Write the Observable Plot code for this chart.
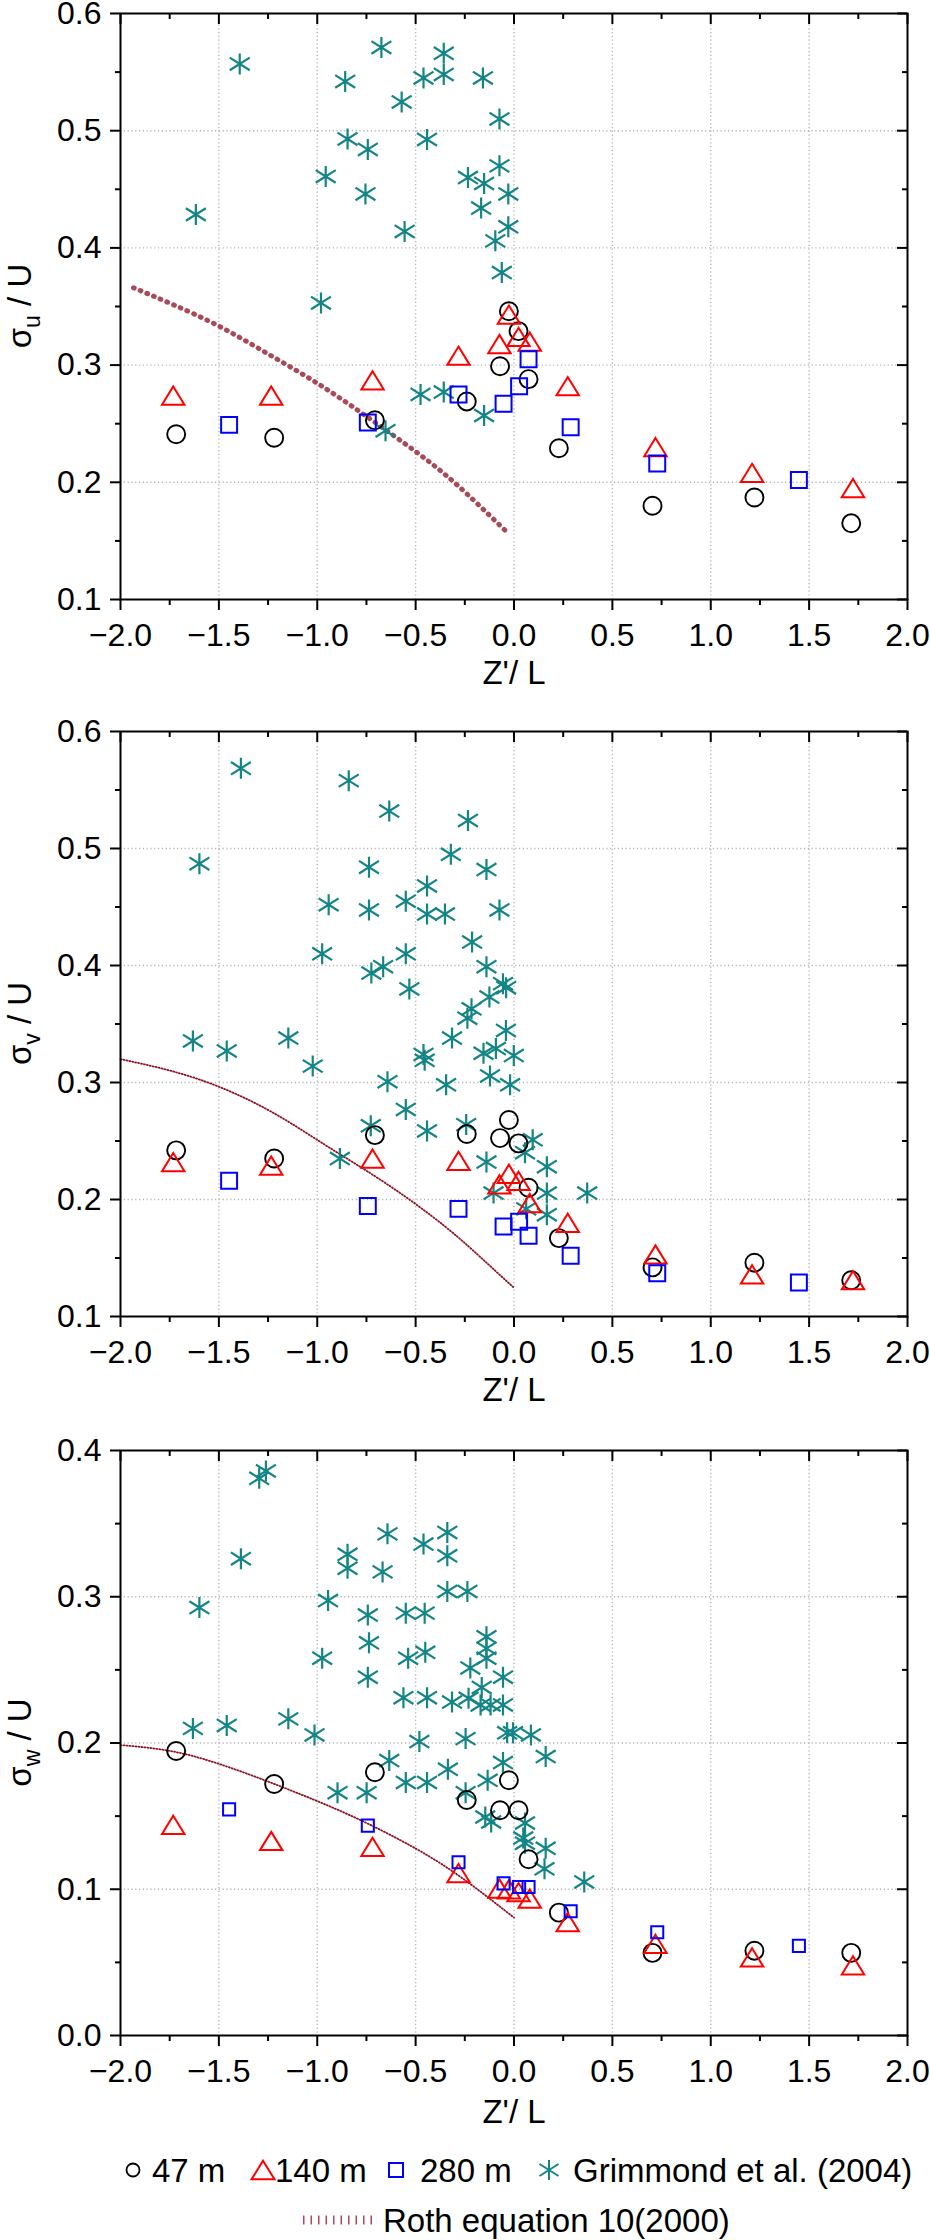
<!DOCTYPE html>
<html>
<head>
<meta charset="utf-8">
<script src="https://cdn.jsdelivr.net/npm/d3@7"></script>
<script src="https://cdn.jsdelivr.net/npm/@observablehq/plot@0.6"></script>
<style>
  html, body { margin: 0; padding: 0; background: #fff; }
  #chart { width: 930px; }
  #chart svg { display: block; }
</style>
</head>
<body>
<div id="chart"></div>
<script>
// ---------- tick values ----------
const xMajor = [-2, -1.5, -1, -0.5, 0, 0.5, 1, 1.5, 2];
const xMinor = [-1.75, -1.25, -0.75, -0.25, 0.25, 0.75, 1.25, 1.75];
const xGrid = [-1.5, -1, -0.5, 0, 0.5, 1, 1.5];
const uvMajor = [0.1, 0.2, 0.3, 0.4, 0.5, 0.6];
const uvMinor = [0.15, 0.25, 0.35, 0.45, 0.55];
const uvGrid = [0.2, 0.3, 0.4, 0.5];
const wMajor = [0, 0.1, 0.2, 0.3, 0.4];
const wMinor = [0.05, 0.15, 0.25, 0.35];
const wGrid = [0.1, 0.2, 0.3];

// ---------- legend labels ----------
const seriesNames = ["47 m", "140 m", "280 m", "Grimmond et al. (2004)", "Roth equation 10(2000)"];
const xLabel = "Z'/ L";

// ---------- 47 m (circles) ----------
const x47 = [-1.717, -1.219, -0.707, -0.240, -0.071, -0.026, 0.023, 0.074, 0.228, 0.704, 1.222, 1.714];
const u47 = [0.241, 0.238, 0.253, 0.269, 0.299, 0.346, 0.329, 0.288, 0.229, 0.180, 0.187, 0.165];
const v47 = [0.242, 0.235, 0.255, 0.256, 0.2525, 0.268, 0.248, 0.210, 0.167, 0.142, 0.146, 0.131];
const w47 = [0.1945, 0.172, 0.180, 0.161, 0.154, 0.1745, 0.154, 0.1205, 0.084, 0.0565, 0.058, 0.0565];

// ---------- 140 m (triangles) ----------
const x140 = [-1.732, -1.234, -0.719, -0.282, -0.074, -0.026, 0.023, 0.080, 0.273, 0.719, 1.210, 1.723];
const u140 = [0.274, 0.274, 0.287, 0.308, 0.318, 0.343, 0.324, 0.320, 0.282, 0.230, 0.208, 0.195];
const v140 = [0.232, 0.229, 0.235, 0.233, 0.213, 0.222, 0.216, 0.197, 0.180, 0.153, 0.136, 0.131];
const w140 = [0.144, 0.133, 0.129, 0.111, 0.1005, 0.100, 0.098, 0.0936, 0.0775, 0.0627, 0.0534, 0.048];

// ---------- 280 m (squares) ----------
const x280 = [-1.448, -0.743, -0.282, -0.053, 0.026, 0.074, 0.288, 0.728, 1.448];
const u280 = [0.249, 0.251, 0.275, 0.267, 0.282, 0.305, 0.247, 0.216, 0.202];
const v280 = [0.216, 0.1945, 0.192, 0.177, 0.181, 0.169, 0.152, 0.137, 0.129];
const w280 = [0.1546, 0.1435, 0.1184, 0.104, 0.1015, 0.1015, 0.085, 0.0706, 0.0613];

// ---------- Grimmond et al. (2004) (asterisks) ----------
const guX = [-1.617, -1.394, -0.981, -0.957, -0.858, -0.846, -0.743, -0.755, -0.674, -0.571, -0.556, -0.653, -0.475, -0.460, -0.442, -0.357, -0.357, -0.357, -0.234, -0.158, -0.152, -0.167, -0.152, -0.095, -0.074, -0.074, -0.062, -0.029, -0.029];
const guY = [0.4285, 0.557, 0.353, 0.461, 0.542, 0.493, 0.484, 0.446, 0.571, 0.5245, 0.414, 0.244, 0.275, 0.545, 0.4925, 0.566, 0.548, 0.277, 0.460, 0.545, 0.455, 0.434, 0.257, 0.406, 0.510, 0.470, 0.379, 0.446, 0.418];

const gvX = [-1.388, -0.840, -0.634, -0.234, -1.599, -0.737, -0.321, -0.140, -0.942, -0.737, -0.550, -0.442, -0.442, -0.351, -0.074, -0.213, -0.975, -0.550, -0.665, -0.725, -0.140, -0.532, -0.056, -0.040, -0.125, -0.216, -0.237, -0.041, -1.632, -1.460, -1.147, -0.315, -1.023, -0.460, -0.454, -0.155, -0.092, -0.001, -0.122, -0.643, -0.345, -0.020, -0.550, -0.728, -0.442, -0.243, 0.095, 0.056, -0.885, -0.140, 0.167, -0.104, 0.167, 0.372, 0.062, 0.167];
const gvY = [0.5685, 0.558, 0.532, 0.524, 0.487, 0.484, 0.495, 0.482, 0.452, 0.4475, 0.455, 0.468, 0.444, 0.444, 0.4475, 0.420, 0.410, 0.410, 0.399, 0.3935, 0.399, 0.380, 0.3845, 0.381, 0.373, 0.363, 0.355, 0.3445, 0.3355, 0.327, 0.338, 0.338, 0.314, 0.324, 0.319, 0.325, 0.329, 0.323, 0.3056, 0.3007, 0.298, 0.298, 0.277, 0.263, 0.2586, 0.264, 0.251, 0.240, 0.235, 0.232, 0.228, 0.2055, 0.2055, 0.2055, 0.192, 0.187];

const gwX = [-1.295, -1.261, -1.388, -1.599, -1.632, -1.460, -1.147, -1.014, -0.945, -0.975, -0.846, -0.846, -0.897, -0.643, -0.668, -0.743, -0.737, -0.743, -0.749, -0.634, -0.550, -0.454, -0.460, -0.339, -0.339, -0.339, -0.237, -0.538, -0.451, -0.562, -0.442, -0.481, -0.550, -0.442, -0.315, -0.231, -0.140, -0.140, -0.140, -0.222, -0.056, -0.164, -0.170, -0.119, -0.056, -0.246, -0.035, -0.005, 0.086, 0.161, -0.336, -0.056, -0.134, -0.246, -0.146, -0.116, 0.056, 0.047, 0.056, 0.161, 0.155, 0.357];
const gwY = [0.381, 0.386, 0.326, 0.2926, 0.210, 0.212, 0.2165, 0.2055, 0.2974, 0.258, 0.329, 0.3195, 0.166, 0.343, 0.317, 0.2875, 0.2685, 0.245, 0.166, 0.188, 0.2888, 0.2888, 0.336, 0.344, 0.328, 0.3036, 0.3036, 0.258, 0.262, 0.231, 0.231, 0.201, 0.173, 0.173, 0.228, 0.2306, 0.2726, 0.2647, 0.258, 0.2513, 0.245, 0.238, 0.226, 0.226, 0.226, 0.203, 0.207, 0.207, 0.2055, 0.1907, 0.182, 0.1866, 0.1745, 0.166, 0.1494, 0.146, 0.1453, 0.135, 0.1315, 0.128, 0.114, 0.105];

// ---------- Roth equation 10 (2000) curves ----------
const rothUX = [-1.934, -1.738, -1.497, -1.255, -1.014, -0.773, -0.502, -0.291, -0.045];
const rothUY = [0.366, 0.352, 0.333, 0.310, 0.286, 0.259, 0.2265, 0.198, 0.159];
const rothVX = [-2.0, -1.617, -1.255, -0.954, -0.653, -0.351, -0.140, 0.0];
const rothVY = [0.320, 0.3036, 0.277, 0.246, 0.214, 0.177, 0.146, 0.1245];
const rothWX = [-2.0, -1.708, -1.406, -1.105, -0.803, -0.502, -0.261, 0.0];
const rothWY = [0.1986, 0.1935, 0.1814, 0.166, 0.1487, 0.128, 0.1074, 0.0806];

// ---------- styling ----------
const FONT = "'Liberation Sans', Arial, Helvetica, sans-serif";
const C_TRI = "#ff0000", C_SQ = "#0000ff", C_AST = "#138584", C_ROTH = "#8e1222";
const fmt = d3.format(".1f");

// custom symbols
const triCentered = {
  draw(ctx, size) {
    const k = Math.sqrt(size / Math.PI);
    const hw = 1.35 * k, hh = 1.1 * k;
    ctx.moveTo(0, -hh); ctx.lineTo(hw, hh); ctx.lineTo(-hw, hh); ctx.closePath();
  }
};
const asterisk = {
  draw(ctx, size) {
    const k = Math.sqrt(size / Math.PI);
    const dx = 0.95 * k, dy = 0.6 * k;
    ctx.moveTo(0, -k); ctx.lineTo(0, k);
    ctx.moveTo(-dx, -dy); ctx.lineTo(dx, dy);
    ctx.moveTo(-dx, dy); ctx.lineTo(dx, -dy);
  }
};

function panel(cfg) {
  const W = 930, ML = 120, MR = 23;
  const plotW = W - ML - MR;
  const plotH = cfg.height - cfg.marginTop - cfg.marginBottom;
  const grid = {stroke: "#b4b4b4", strokeOpacity: 1, strokeWidth: 1.4, strokeDasharray: "1.2,2.6"};
  const svg = Plot.plot({
    width: W, height: cfg.height,
    marginLeft: ML, marginRight: MR, marginTop: cfg.marginTop, marginBottom: cfg.marginBottom,
    style: {fontFamily: FONT, fontSize: "32px", color: "black", background: "white", overflow: "visible"},
    x: {domain: [-2, 2]},
    y: {domain: cfg.yDomain},
    marks: [
      Plot.gridX(xGrid, grid),
      Plot.gridY(cfg.yGrid, grid),
      Plot.line(cfg.rothX, {x: cfg.rothX, y: cfg.rothY, curve: "natural", stroke: C_ROTH, ...cfg.rothStyle}),
      Plot.dot(cfg.gX, {x: cfg.gX, y: cfg.gY, symbol: asterisk, r: 10.5, stroke: C_AST, fill: "none", strokeWidth: 2.2}),
      Plot.dot(x47, {x: x47, y: cfg.y47, symbol: "circle", r: 9, stroke: "black", fill: "none", strokeWidth: 1.9}),
      Plot.dot(x140, {x: x140, y: cfg.y140, symbol: triCentered, r: 8.3, stroke: C_TRI, fill: "none", strokeWidth: 2}),
      Plot.dot(x280, {x: x280, y: cfg.y280, symbol: "square", r: cfg.sqR, stroke: C_SQ, fill: "none", strokeWidth: 2}),
      Plot.frame({stroke: "black", strokeWidth: 2}),
      Plot.axisX(xMajor, {tickSize: 11, tickPadding: 13, strokeWidth: 2, tickFormat: fmt, fontSize: 32, label: null}),
      Plot.axisX(xMinor, {tickSize: 6, strokeWidth: 2, tickFormat: () => "", label: null}),
      Plot.axisY(cfg.yMajor, {tickSize: 10, tickPadding: 9, strokeWidth: 2, tickFormat: fmt, fontSize: 32, label: null}),
      Plot.axisY(cfg.yMinor, {tickSize: 5, strokeWidth: 2, tickFormat: () => "", label: null}),
      Plot.tickX(xMajor, {x: d => d, insetBottom: plotH - 11, strokeWidth: 2, stroke: "black"}),
      Plot.tickX(xMinor, {x: d => d, insetBottom: plotH - 6, strokeWidth: 2, stroke: "black"}),
      Plot.tickY(cfg.yMajor, {y: d => d, insetLeft: plotW - 10, strokeWidth: 2, stroke: "black"}),
      Plot.tickY(cfg.yMinor, {y: d => d, insetLeft: plotW - 5, strokeWidth: 2, stroke: "black"}),
      Plot.text([xLabel], {text: d => d, frameAnchor: "bottom", dy: cfg.xLabelDy, fontSize: 33, fill: "black"})
    ]
  });
  // y label with subscript
  const t = d3.select(svg).append("text")
    .attr("transform", `translate(31,${cfg.marginTop + plotH / 2}) rotate(-90)`)
    .attr("text-anchor", "middle")
    .attr("font-family", FONT)
    .attr("font-size", 33)
    .attr("fill", "black");
  t.append("tspan").text("σ");
  t.append("tspan").attr("font-size", 23).attr("dy", 9).text(cfg.sub);
  t.append("tspan").attr("dy", -9).text(" / U");
  return svg;
}

const chart = document.getElementById("chart");

chart.appendChild(panel({
  height: 715, marginTop: 13, marginBottom: 116, yDomain: [0.1, 0.6],
  yMajor: uvMajor, yMinor: uvMinor, yGrid: uvGrid, sub: "u", xLabelDy: 84,
  y47: u47, y140: u140, y280: u280, gX: guX, gY: guY, sqR: 9,
  rothX: rothUX, rothY: rothUY, rothStyle: {strokeWidth: 5, strokeDasharray: "0.8,6.5", stroke: "#a84a5a"}
}));
chart.appendChild(panel({
  height: 715, marginTop: 16, marginBottom: 114, yDomain: [0.1, 0.6],
  yMajor: uvMajor, yMinor: uvMinor, yGrid: uvGrid, sub: "v", xLabelDy: 84,
  y47: v47, y140: v140, y280: v280, gX: gvX, gY: gvY, sqR: 9,
  rothX: rothVX, rothY: rothVY, rothStyle: {strokeWidth: 1.8, strokeDasharray: "1,2"}
}));
chart.appendChild(panel({
  height: 710, marginTop: 20, marginBottom: 105, yDomain: [0, 0.4],
  yMajor: wMajor, yMinor: wMinor, yGrid: wGrid, sub: "w", xLabelDy: 87,
  y47: w47, y140: w140, y280: w280, gX: gwX, gY: gwY, sqR: 6.8,
  rothX: rothWX, rothY: rothWY, rothStyle: {strokeWidth: 1.8, strokeDasharray: "1,2"}
}));

// ---------- legend ----------
const leg = d3.create("svg")
  .attr("width", 930).attr("height", 100)
  .style("display", "block")
  .attr("font-family", FONT).attr("font-size", 33);
leg.append("circle").attr("cx", 133).attr("cy", 30).attr("r", 6.5)
  .attr("fill", "none").attr("stroke", "black").attr("stroke-width", 1.8);
leg.append("text").attr("x", 152).attr("y", 41.8).text(seriesNames[0]);
leg.append("path").attr("transform", "translate(263,30)")
  .attr("d", d3.symbol(triCentered, Math.PI * 8.5 * 8.5)())
  .attr("fill", "none").attr("stroke", C_TRI).attr("stroke-width", 2);
leg.append("text").attr("x", 275).attr("y", 41.8).text(seriesNames[1]);
leg.append("rect").attr("x", 389).attr("y", 23).attr("width", 14).attr("height", 14)
  .attr("fill", "none").attr("stroke", C_SQ).attr("stroke-width", 2);
leg.append("text").attr("x", 420).attr("y", 41.8).text(seriesNames[2]);
leg.append("path").attr("transform", "translate(549,30)")
  .attr("d", d3.symbol(asterisk, Math.PI * 10 * 10)())
  .attr("fill", "none").attr("stroke", C_AST).attr("stroke-width", 2);
leg.append("text").attr("x", 573).attr("y", 41.8).text(seriesNames[3]);
leg.append("line").attr("x1", 303).attr("x2", 373).attr("y1", 80).attr("y2", 80)
  .attr("stroke", "#b04a58").attr("stroke-width", 9).attr("stroke-dasharray", "1.5,6");
leg.append("text").attr("x", 383).attr("y", 91.8).text(seriesNames[4]);
chart.appendChild(leg.node());
</script>
</body>
</html>
